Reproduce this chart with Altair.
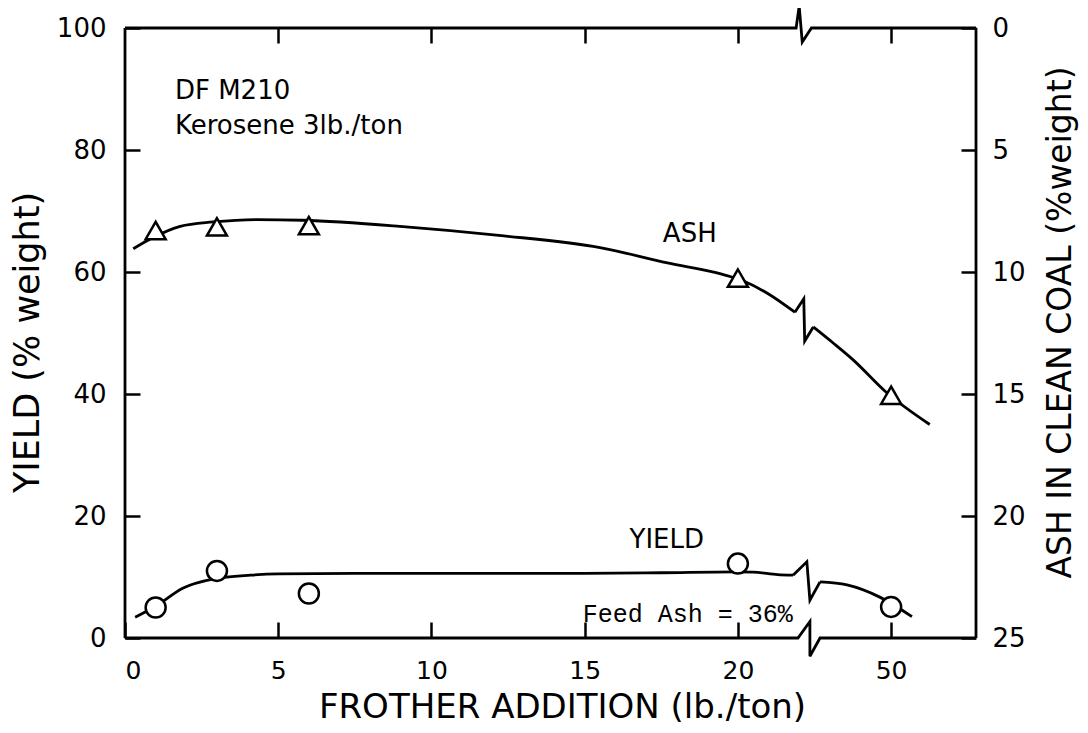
import altair as alt
import pandas as pd

# ---------------- values ----------------
# Frother addition (lb./ton). The x axis is broken between 20 and 50:
# values above the break are drawn 25 units to the left (50 sits where 25 would be).
FROTHER = [1, 3, 6, 20, 50]
YIELD_PCT = [5.0, 11.0, 7.3, 12.2, 5.1]        # circles  (left axis)
ASH_PCT = [8.3, 8.15, 8.1, 10.25, 15.05]       # triangles (right axis, reversed)

# hand-drawn fitted curves
YIELD_CURVE_F = [0.33, 1.0, 1.9, 2.9, 4.1, 5.0, 7.5, 10, 12.5, 15, 17.5, 19.9, 20.5, 21.3, 21.8]
YIELD_CURVE_V = [3.4, 5.2, 8.2, 9.7, 10.3, 10.5, 10.6, 10.6, 10.6, 10.6, 10.7, 10.85, 10.8, 10.4, 10.3]
YIELD_BREAK_F = [21.8, 22.25, 22.35, 22.68]
YIELD_BREAK_V = [10.3, 12.5, 6.2, 9.2]
YIELD_CURVE2_F = [47.68, 48.56, 49.63, 50.68]
YIELD_CURVE2_V = [9.2, 8.7, 6.7, 3.5]

ASH_CURVE_F = [0.27, 0.9, 1.8, 2.87, 4.3, 5.8, 8.97, 12.2, 15.5, 17.7, 19.5, 20.2, 21.0, 21.86]
ASH_CURVE_V = [9.05, 8.6, 8.13, 7.95, 7.85, 7.88, 8.13, 8.5, 9.0, 9.63, 10.1, 10.38, 10.9, 11.65]
ASH_BREAK_F = [21.86, 22.15, 22.18, 22.46]
ASH_BREAK_V = [11.65, 11.1, 12.83, 12.25]
ASH_CURVE2_F = [47.46, 48.1, 48.76, 49.86, 51.26]
ASH_CURVE2_V = [12.25, 12.9, 13.6, 14.95, 16.25]

# axis-break glyphs on the top and bottom frame (x, yield units)
TOP_BREAK_F = [21.9, 22.0, 22.1, 22.4]
TOP_BREAK_V = [100, 103.6, 97.7, 100]
BOT_BREAK_F = [21.96, 22.35, 22.35, 22.68]
BOT_BREAK_V = [0, 2.7, -3.0, 0]

X_TICK_VALUES = [0, 5, 10, 15, 20, 50]
X_TICK_LABELS = ["0", "5", "10", "15", "20", "50"]
YIELD_TICKS = [0, 20, 40, 60, 80, 100]
ASH_TICKS = [0, 5, 10, 15, 20, 25]

ANNOT_TEXT = ["DF M210", "Kerosene 3lb./ton", "ASH", "YIELD"]
ANNOT_F = [1.63, 1.63, 18.43, 17.68]
ANNOT_V = [88.3, 82.6, 64.9, 14.8]
ANNOT_ALIGN = ["left", "left", "center", "center"]
FEED_TEXT = "Feed Ash = 36%"
FEED_F, FEED_V = 14.94, 2.6

# ---------------- helpers ----------------
XMAX = 27.77
YMAX = 100
ASHMAX = 25


def pos(f):
    return f if f < 30 else f - 25


def seq(fs, vs, name=""):
    return pd.DataFrame({"pos": [pos(f) for f in fs], "v": vs,
                         "i": list(range(len(fs))), "part": name})


FONT = "DejaVu Sans"
INK = "black"
LW = 2.8

xs = alt.Scale(domain=[0, XMAX], nice=False, zero=False)
ys = alt.Scale(domain=[0, YMAX], nice=False, zero=False)
ash_s = alt.Scale(domain=[0, ASHMAX], nice=False, zero=False, reverse=True)

tick_pos = [pos(v) for v in X_TICK_VALUES]
label_expr = "datum.label"
for p, lab in zip(tick_pos, X_TICK_LABELS):
    label_expr = f"datum.value == {p} ? '{lab}' : (" + label_expr + ")"

X0 = alt.X("pos:Q", scale=xs, axis=None)
Y0 = alt.Y("v:Q", scale=ys, axis=None)
A0 = alt.Y("v:Q", scale=ash_s, axis=None)

# ---------------- frame ----------------
frame_sides = pd.DataFrame({"pos": [0, XMAX], "y0": [0, 0], "y1": [YMAX, YMAX]})
top_axis = alt.Axis(orient="top", values=[p for p in tick_pos if p > 0], labels=False,
                    domain=False, tickSize=15, offset=-15, tickWidth=2.5,
                    tickColor=INK, title=None, grid=False)
frame_rules = alt.Chart(frame_sides).mark_rule(color=INK, strokeWidth=LW).encode(
    x=alt.X("pos:Q", scale=xs, axis=top_axis),
    y=alt.Y("y0:Q", scale=ys, axis=None),
    y2="y1:Q",
)

frame_df = pd.concat([
    seq([0] + BOT_BREAK_F + [XMAX], [0] + BOT_BREAK_V + [0], "bottom"),
    seq([0] + TOP_BREAK_F + [XMAX], [YMAX] + TOP_BREAK_V + [YMAX], "top"),
])
frame_lines = alt.Chart(frame_df).mark_line(color=INK, strokeWidth=LW, strokeJoin="miter").encode(
    x=X0, y=Y0, detail="part:N", order="i:Q")

# ---------------- yield ----------------
ycurve_df = pd.concat([seq(YIELD_CURVE_F, YIELD_CURVE_V, "a"),
                       seq(YIELD_CURVE2_F, YIELD_CURVE2_V, "b")])
ycurve = alt.Chart(ycurve_df).mark_line(color=INK, strokeWidth=LW, interpolate="monotone").encode(
    x=X0, y=Y0, detail="part:N", order="i:Q")
ybreak = alt.Chart(seq(YIELD_BREAK_F, YIELD_BREAK_V)).mark_line(
    color=INK, strokeWidth=LW, strokeJoin="miter").encode(x=X0, y=Y0, order="i:Q")

bottom_axis = alt.Axis(orient="bottom", values=tick_pos, labelExpr=label_expr,
                       domain=False, tickSize=16, offset=-16, tickWidth=2.5, tickColor=INK,
                       labelPadding=20, labelFont=FONT, labelFontSize=25, labelColor=INK,
                       grid=False, title="FROTHER ADDITION (lb./ton)", titleFont=FONT,
                       titleFontSize=34, titleFontWeight="normal", titleColor=INK,
                       titleX=437, titleY=85, titleBaseline="middle", titleAlign="center")
left_axis = alt.Axis(orient="left", values=YIELD_TICKS, domain=False, tickSize=15,
                     offset=-15, tickWidth=2.5, tickColor=INK, labelPadding=19,
                     labelFont=FONT, labelFontSize=26, labelColor=INK, grid=False,
                     title="YIELD (% weight)", titleFont=FONT, titleFontSize=35,
                     titleFontWeight="normal", titleColor=INK, titleAngle=270,
                     titleX=-113, titleY=314, titleBaseline="middle", titleAlign="center")

ypts = pd.DataFrame({"pos": [pos(f) for f in FROTHER], "v": YIELD_PCT})
ycircles = alt.Chart(ypts).mark_point(shape="circle", size=400, filled=True, fill="white",
                                      stroke=INK, strokeWidth=2.5, opacity=1).encode(
    x=alt.X("pos:Q", scale=xs, axis=bottom_axis),
    y=alt.Y("v:Q", scale=ys, axis=left_axis),
)

annot_df = pd.DataFrame({"t": ANNOT_TEXT, "pos": [pos(f) for f in ANNOT_F],
                         "v": ANNOT_V, "al": ANNOT_ALIGN})
annot_left = alt.Chart(annot_df[annot_df.al == "left"]).mark_text(
    align="left", baseline="alphabetic", font=FONT, fontSize=26, color=INK).encode(
    x=X0, y=Y0, text="t:N")
annot_center = alt.Chart(annot_df[annot_df.al == "center"]).mark_text(
    align="center", baseline="alphabetic", font=FONT, fontSize=26, color=INK).encode(
    x=X0, y=Y0, text="t:N")
feed = alt.Chart(pd.DataFrame({"t": [FEED_TEXT], "pos": [pos(FEED_F)], "v": [FEED_V]})).mark_text(
    align="left", baseline="alphabetic", font="Liberation Mono", fontSize=25, color=INK).encode(
    x=X0, y=Y0, text="t:N")

# ---------------- ash (right axis, reversed) ----------------
right_axis = alt.Axis(orient="right", values=ASH_TICKS, domain=False, tickSize=15,
                      offset=-15, tickWidth=2.5, tickColor=INK, labelPadding=16,
                      labelFont=FONT, labelFontSize=26, labelColor=INK, grid=False,
                      title="ASH IN CLEAN COAL (%weight)", titleFont=FONT, titleFontSize=33,
                      titleFontWeight="normal", titleColor=INK, titleAngle=270,
                      titleX=99, titleY=294, titleBaseline="middle", titleAlign="center")

acurve_df = pd.concat([seq(ASH_CURVE_F, ASH_CURVE_V, "a"),
                       seq(ASH_CURVE2_F, ASH_CURVE2_V, "b")])
acurve = alt.Chart(acurve_df).mark_line(color=INK, strokeWidth=LW, interpolate="monotone").encode(
    x=X0, y=A0, detail="part:N", order="i:Q")
abreak = alt.Chart(seq(ASH_BREAK_F, ASH_BREAK_V)).mark_line(
    color=INK, strokeWidth=LW, strokeJoin="miter").encode(x=X0, y=A0, order="i:Q")
apts = pd.DataFrame({"pos": [pos(f) for f in FROTHER], "v": ASH_PCT})
atri = alt.Chart(apts).mark_point(shape="triangle-up", size=400, filled=True, fill="white",
                                  stroke=INK, strokeWidth=2.5, opacity=1).encode(
    x=alt.X("pos:Q", scale=xs, axis=None),
    y=alt.Y("v:Q", scale=ash_s, axis=right_axis),
)

chart = alt.layer(
    frame_rules, frame_lines, ycurve, ybreak, acurve, abreak,
    ycircles, atri, annot_left, annot_center, feed,
).resolve_scale(y="independent").resolve_axis(x="independent", y="independent").properties(
    width=851, height=610,
    autosize=alt.AutoSizeParams(type="none"),
    padding={"left": 117, "top": 20, "right": 104, "bottom": 87},
    background="white",
).configure_view(stroke=None)

chart.save("out.html", embed_options={"renderer": "svg", "actions": False})
